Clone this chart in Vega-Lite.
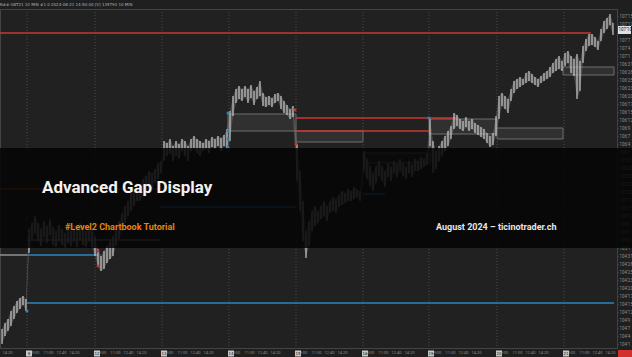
{
  "$schema": "https://vega.github.io/schema/vega-lite/v6.json",
  "width": 617,
  "height": 339,
  "autosize": {"type": "none"},
  "padding": {"left": 0, "top": 9, "right": 15, "bottom": 9},
  "background": "#1f1f1f",
  "title": {"text": "ZN##-08T21  10 MIN  #1 0  2024-08-21 14:50:00  [V] 135793  10 MIN", "anchor": "start", "fontSize": 4, "fontWeight": "normal", "color": "#b0b0b0", "offset": 1.5, "font": "DejaVu Sans", "dx": 2},
  "config": {
    "view": {"fill": "#212121", "stroke": "#444444"},
    "font": "Roboto",
    "axis": {"labelOverlap": false, "labelBound": false, "labelFlush": false}
  },
  "datasets": {
    "candles": [
      {"x":2,"h":19,"l":4},{"x":5,"h":25,"l":12},{"x":8,"h":29,"l":17},{"x":11,"h":37,"l":22},{"x":14,"h":42,"l":29},{"x":17,"h":47,"l":35},{"x":20,"h":50,"l":39},{"x":23,"h":52,"l":43},{"x":26,"h":49,"l":37},
      {"x":29,"h":119,"l":95},{"x":32,"h":125,"l":109},{"x":35,"h":132,"l":115},{"x":38,"h":125,"l":107},{"x":41,"h":119,"l":102},{"x":44,"h":127,"l":111},{"x":47,"h":122,"l":105},{"x":50,"h":129,"l":113},{"x":53,"h":121,"l":103},{"x":56,"h":117,"l":101},{"x":59,"h":123,"l":107},{"x":62,"h":119,"l":103},{"x":65,"h":115,"l":100},{"x":68,"h":121,"l":105},{"x":71,"h":117,"l":102},{"x":74,"h":123,"l":107},{"x":77,"h":119,"l":101},{"x":80,"h":125,"l":109},{"x":83,"h":121,"l":103},{"x":86,"h":117,"l":101},{"x":89,"h":122,"l":107},{"x":92,"h":119,"l":101},
      {"x":95,"h":112,"l":92},{"x":98,"h":99,"l":81},{"x":101,"h":92,"l":77},{"x":104,"h":97,"l":79},{"x":107,"h":102,"l":85},{"x":110,"h":107,"l":89},{"x":113,"h":112,"l":92},{"x":116,"h":119,"l":102},{"x":119,"h":127,"l":109},{"x":122,"h":135,"l":117},{"x":125,"h":142,"l":125},{"x":128,"h":147,"l":132},{"x":131,"h":155,"l":137},{"x":134,"h":157,"l":142},{"x":137,"h":165,"l":147},{"x":140,"h":162,"l":147},{"x":143,"h":169,"l":152},{"x":146,"h":172,"l":157},{"x":149,"h":177,"l":161},{"x":152,"h":175,"l":159},{"x":155,"h":179,"l":165},{"x":158,"h":185,"l":169},{"x":161,"h":187,"l":175},
      {"x":164,"h":207,"l":187},{"x":167,"h":205,"l":192},{"x":170,"h":209,"l":195},{"x":173,"h":202,"l":187},{"x":176,"h":207,"l":192},{"x":179,"h":204,"l":189},{"x":182,"h":209,"l":197},{"x":185,"h":207,"l":192},{"x":188,"h":202,"l":187},{"x":191,"h":209,"l":197},{"x":194,"h":212,"l":199},{"x":197,"h":209,"l":195},{"x":200,"h":207,"l":192},{"x":203,"h":205,"l":197},{"x":206,"h":209,"l":199},{"x":209,"h":207,"l":195},{"x":212,"h":211,"l":201},{"x":215,"h":209,"l":199},{"x":218,"h":212,"l":202},{"x":221,"h":210,"l":197},{"x":224,"h":213,"l":202},{"x":227,"h":219,"l":199},
      {"x":230,"h":237,"l":207},{"x":233,"h":252,"l":232},{"x":236,"h":259,"l":245},{"x":239,"h":262,"l":249},{"x":242,"h":259,"l":247},{"x":245,"h":262,"l":251},{"x":248,"h":259,"l":245},{"x":251,"h":263,"l":250},{"x":254,"h":257,"l":243},{"x":257,"h":261,"l":249},{"x":260,"h":267,"l":252},{"x":263,"h":255,"l":242},{"x":266,"h":251,"l":241},{"x":269,"h":252,"l":243},{"x":272,"h":250,"l":241},{"x":275,"h":254,"l":245},{"x":278,"h":255,"l":247},{"x":281,"h":252,"l":239},{"x":284,"h":247,"l":235},{"x":287,"h":243,"l":233},{"x":290,"h":239,"l":229},{"x":293,"h":242,"l":231},
      {"x":297,"h":204,"l":167},{"x":300,"h":177,"l":137},{"x":303,"h":147,"l":107},{"x":306,"h":117,"l":90},{"x":309,"h":127,"l":102},{"x":312,"h":137,"l":117},{"x":315,"h":142,"l":122},{"x":318,"h":137,"l":125},{"x":321,"h":142,"l":129},{"x":324,"h":147,"l":132},{"x":327,"h":142,"l":127},{"x":330,"h":147,"l":135},{"x":333,"h":151,"l":137},{"x":336,"h":149,"l":135},{"x":339,"h":153,"l":141},{"x":342,"h":157,"l":143},{"x":345,"h":155,"l":145},{"x":348,"h":159,"l":147},{"x":351,"h":157,"l":147},{"x":354,"h":161,"l":149},{"x":357,"h":159,"l":151},{"x":360,"h":157,"l":147},
      {"x":364,"h":197,"l":177},{"x":367,"h":189,"l":169},{"x":370,"h":182,"l":162},{"x":373,"h":175,"l":157},{"x":376,"h":182,"l":165},{"x":379,"h":187,"l":172},{"x":382,"h":182,"l":167},{"x":385,"h":177,"l":161},{"x":388,"h":185,"l":171},{"x":391,"h":181,"l":167},{"x":394,"h":187,"l":175},{"x":397,"h":184,"l":171},{"x":400,"h":189,"l":177},{"x":403,"h":185,"l":172},{"x":406,"h":181,"l":169},{"x":409,"h":187,"l":175},{"x":412,"h":183,"l":171},{"x":415,"h":189,"l":177},{"x":418,"h":187,"l":177},{"x":421,"h":191,"l":179},{"x":424,"h":189,"l":181},{"x":427,"h":195,"l":183},
      {"x":430,"h":229,"l":202},{"x":433,"h":207,"l":175},{"x":436,"h":197,"l":179},{"x":439,"h":202,"l":187},{"x":442,"h":207,"l":192},{"x":445,"h":212,"l":197},{"x":448,"h":217,"l":202},{"x":451,"h":222,"l":209},{"x":454,"h":235,"l":219},{"x":457,"h":233,"l":222},{"x":460,"h":229,"l":219},{"x":463,"h":227,"l":217},{"x":466,"h":231,"l":221},{"x":469,"h":227,"l":217},{"x":472,"h":229,"l":219},{"x":475,"h":225,"l":215},{"x":478,"h":223,"l":213},{"x":481,"h":221,"l":211},{"x":484,"h":219,"l":209},{"x":487,"h":215,"l":205},{"x":490,"h":212,"l":201},{"x":493,"h":215,"l":203},
      {"x":496,"h":232,"l":212},{"x":499,"h":252,"l":229},{"x":502,"h":255,"l":242},{"x":505,"h":252,"l":239},{"x":508,"h":249,"l":235},{"x":511,"h":259,"l":247},{"x":514,"h":267,"l":255},{"x":517,"h":269,"l":259},{"x":520,"h":271,"l":261},{"x":523,"h":269,"l":263},{"x":526,"h":275,"l":265},{"x":529,"h":277,"l":267},{"x":532,"h":274,"l":265},{"x":535,"h":271,"l":263},{"x":538,"h":269,"l":261},{"x":541,"h":272,"l":265},{"x":544,"h":275,"l":267},{"x":547,"h":277,"l":269},{"x":550,"h":281,"l":271},{"x":553,"h":285,"l":275},{"x":556,"h":289,"l":277},{"x":559,"h":292,"l":279},{"x":562,"h":287,"l":277},
      {"x":565,"h":295,"l":282},{"x":568,"h":297,"l":285},{"x":571,"h":292,"l":275},{"x":574,"h":289,"l":272},{"x":577,"h":294,"l":249},{"x":580,"h":287,"l":257},{"x":583,"h":302,"l":285},{"x":586,"h":309,"l":297},{"x":589,"h":314,"l":302},{"x":592,"h":314,"l":303},{"x":595,"h":311,"l":301},{"x":598,"h":307,"l":298},{"x":601,"h":319,"l":307},{"x":604,"h":327,"l":315},{"x":607,"h":330,"l":319},{"x":610,"h":334,"l":323},{"x":613,"h":325,"l":313}
    ],
    "levels": [
      {"x":0,"x2":591,"v":315,"k":"red"},
      {"x":296,"x2":457,"v":230,"k":"red"},
      {"x":296,"x2":429,"v":217,"k":"red"},
      {"x":0,"x2":160,"v":159,"k":"red"},
      {"x":27,"x2":614,"v":45,"k":"blue"},
      {"x":27,"x2":98,"v":93,"k":"blue"},
      {"x":160,"x2":296,"v":141,"k":"blue"},
      {"x":363,"x2":385,"v":154,"k":"blue"},
      {"x":0,"x2":27,"v":93,"k":"gray"},
      {"x":27,"x2":160,"v":108,"k":"gray"}
    ],
    "boxes": [
      {"x":228,"x2":296,"v":234,"v2":217},
      {"x":296,"x2":363,"v":217,"v2":206},
      {"x":363,"x2":430,"v":195,"v2":185},
      {"x":429,"x2":497,"v":229,"v2":214},
      {"x":497,"x2":563,"v":220,"v2":209},
      {"x":563,"x2":614,"v":281,"v2":273}
    ],
    "dots": [
      {"x":98,"v":97,"k":"red"},{"x":98,"v":82,"k":"red"},{"x":295,"v":238,"k":"red"},{"x":296,"v":204,"k":"red"},
      {"x":27,"v":37,"k":"blue"},{"x":228,"v":235,"k":"blue"},{"x":228,"v":217,"k":"blue"},{"x":228,"v":209,"k":"blue"},{"x":228,"v":201,"k":"blue"},{"x":429,"v":230,"k":"blue"}
    ],
    "days": [
      {"x":27,"d":"9"},{"x":95,"d":"12"},{"x":162,"d":"13"},{"x":229,"d":"14"},{"x":296,"d":"15"},{"x":363,"d":"16"},{"x":429,"d":"19"},{"x":497,"d":"20"},{"x":564,"d":"21"}
    ]
  },
  "layer": [
    {
      "data": {"name": "boxes"},
      "mark": {"type": "rect", "fill": "#3a3a3a", "fillOpacity": 0.6, "stroke": "#6e6e6e", "strokeWidth": 1},
      "encoding": {
        "x": {"field": "x", "type": "quantitative", "scale": {"domain": [0, 617], "nice": false, "zero": false},
          "axis": {"orient": "bottom", "title": null, "grid": false, "labelFontSize": 4, "labelColor": "#8c8c8c", "labelFont": "Roboto", "tickSize": 0, "labelPadding": 2.5, "domainColor": "#444444", "labelOverlap": false, "tickCount": 200,
            "values": [7,35,48,61,74,102,115,128,141,169,182,195,208,236,249,262,275,303,316,329,342,370,383,396,409,437,450,463,476,504,517,530,543,571,584,597,610],
            "labelExpr": "((datum.value+40)%67)==8 ? '9:00' : ((datum.value+40)%67)==21 ? '11:00' : ((datum.value+40)%67)==34 ? '12:40' : '14:20'"}},
        "x2": {"field": "x2"},
        "y": {"field": "v", "type": "quantitative", "scale": {"domain": [0, 339], "nice": false, "zero": false},
          "axis": {"orient": "right", "title": null, "grid": false, "labelFontSize": 4.5, "labelColor": "#8c8c8c", "labelFont": "Roboto", "tickSize": 1, "tickColor": "#555555", "labelPadding": 1, "domainColor": "#444444", "labelOverlap": false, "tickCount": 200,
            "values": [4,12,20,28,36,44,52,60,68,76,84,92,100,108,116,124,132,140,148,156,164,172,180,188,196,204,212,220,228,236,244,252,260,268,276,284,292,300,308,324,332,340],
            "labelExpr": "(104+floor(round(datum.value/3)/32)) + \"'\" + (round(datum.value/3)%32)"}},
        "y2": {"field": "v2"}
      }
    },
    {
      "data": {"name": "days"},
      "mark": {"type": "rule", "color": "#4a4a4a", "strokeDash": [1, 2], "strokeWidth": 1},
      "encoding": {"x": {"field": "x", "type": "quantitative"}}
    },
    {
      "data": {"name": "levels"},
      "mark": {"type": "rule", "strokeWidth": 1.6},
      "encoding": {
        "x": {"field": "x", "type": "quantitative"},
        "x2": {"field": "x2"},
        "y": {"field": "v", "type": "quantitative"},
        "color": {"field": "k", "type": "nominal", "scale": {"domain": ["red", "blue", "gray"], "range": ["#c8372d", "#2a86bf", "#8a8a8a"]}, "legend": null}
      }
    },
    {
      "data": {"name": "candles"},
      "mark": {"type": "area", "color": "#8a8a8a", "opacity": 0.4, "interpolate": "linear"},
      "encoding": {
        "x": {"field": "x", "type": "quantitative"},
        "y": {"field": "l", "type": "quantitative"},
        "y2": {"field": "h"}
      }
    },
    {
      "data": {"name": "candles"},
      "mark": {"type": "rule", "color": "#cfcfcf", "strokeWidth": 1.1},
      "encoding": {
        "x": {"field": "x", "type": "quantitative"},
        "y": {"field": "l", "type": "quantitative"},
        "y2": {"field": "h"}
      }
    },
    {
      "data": {"name": "dots"},
      "mark": {"type": "square", "filled": true, "size": 7, "opacity": 1},
      "encoding": {
        "x": {"field": "x", "type": "quantitative"},
        "y": {"field": "v", "type": "quantitative"},
        "color": {"field": "k", "type": "nominal", "legend": null}
      }
    },
    {
      "data": {"values": [{"a": -5, "b": 645, "lo": 100, "hi": 200}]},
      "mark": {"type": "rect", "fill": "#050505", "fillOpacity": 0.86, "clip": false},
      "encoding": {
        "x": {"field": "a", "type": "quantitative"},
        "x2": {"field": "b"},
        "y": {"field": "lo", "type": "quantitative"},
        "y2": {"field": "hi"}
      }
    },
    {
      "data": {"values": [{"t": "Advanced Gap Display"}]},
      "mark": {"type": "text", "align": "left", "baseline": "middle", "font": "Roboto", "fontWeight": "bold", "fontSize": 17, "color": "#f2f2f2"},
      "encoding": {"x": {"datum": 42}, "y": {"datum": 160}, "text": {"field": "t"}}
    },
    {
      "data": {"values": [{"t": "#Level2 Chartbook Tutorial"}]},
      "mark": {"type": "text", "align": "left", "baseline": "middle", "font": "Roboto", "fontWeight": "bold", "fontSize": 9, "color": "#e8820f"},
      "encoding": {"x": {"datum": 65}, "y": {"datum": 121}, "text": {"field": "t"}}
    },
    {
      "data": {"values": [{"t": "August 2024 – ticinotrader.ch"}]},
      "mark": {"type": "text", "align": "left", "baseline": "middle", "font": "Roboto", "fontWeight": "bold", "fontSize": 9, "color": "#e6e6e6"},
      "encoding": {"x": {"datum": 436}, "y": {"datum": 121}, "text": {"field": "t"}}
    },
    {
      "data": {"values": [{"a": 618, "b": 631, "lo": 314, "hi": 322, "t": "107'10"}]},
      "layer": [
        {"mark": {"type": "rect", "fill": "#e0e0e0", "clip": false},
         "encoding": {"x": {"field": "a", "type": "quantitative"}, "x2": {"field": "b"}, "y": {"field": "lo", "type": "quantitative"}, "y2": {"field": "hi"}}},
        {"mark": {"type": "text", "align": "left", "baseline": "middle", "fontSize": 4.5, "font": "Roboto", "color": "#111111", "clip": false, "dx": 0.5},
         "encoding": {"x": {"field": "a", "type": "quantitative"}, "y": {"datum": 318}, "text": {"field": "t"}}}
      ]
    },
    {
      "data": {"values": [{"a": 618, "b": 632, "lo": -2, "hi": -9}]},
      "mark": {"type": "rect", "fill": "#d2302c", "clip": false},
      "encoding": {"x": {"field": "a", "type": "quantitative"}, "x2": {"field": "b"}, "y": {"field": "lo", "type": "quantitative"}, "y2": {"field": "hi"}}
    },
    {
      "data": {"name": "days"},
      "layer": [
        {"mark": {"type": "square", "filled": true, "size": 36, "color": "#c8c8c8", "opacity": 1, "clip": false, "xOffset": 2},
         "encoding": {"x": {"field": "x", "type": "quantitative"}, "y": {"datum": -5.5}}},
        {"mark": {"type": "text", "fontSize": 4, "font": "DejaVu Sans", "color": "#111111", "clip": false, "xOffset": 2, "baseline": "middle"},
         "encoding": {"x": {"field": "x", "type": "quantitative"}, "y": {"datum": -5.5}, "text": {"field": "d"}}}
      ]
    }
  ]
}
